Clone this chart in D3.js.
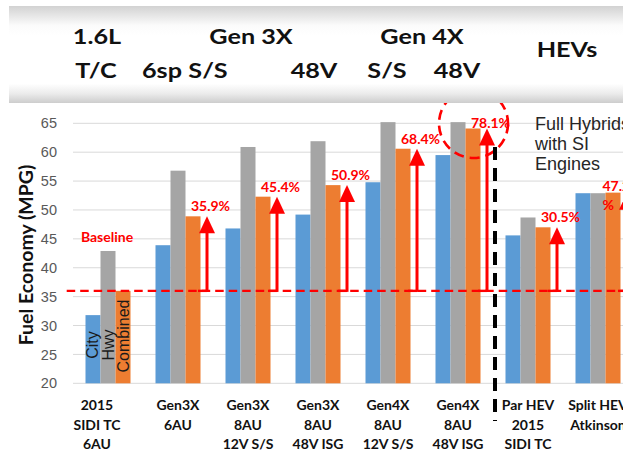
<!DOCTYPE html>
<html>
<head>
<meta charset="utf-8">
<script src="https://cdn.jsdelivr.net/npm/d3@7/dist/d3.min.js"></script>
<style>
  html, body { margin: 0; padding: 0; background: #fff; }
  svg { display: block; }
</style>
</head>
<body>
<div id="chart"></div>
<script>
// Powertrain variants (x-axis label lines)
const categories = [
  ["2015", "SIDI TC", "6AU"],
  ["Gen3X", "6AU"],
  ["Gen3X", "8AU", "12V S/S"],
  ["Gen3X", "8AU", "48V ISG"],
  ["Gen4X", "8AU", "12V S/S"],
  ["Gen4X", "8AU", "48V ISG"],
  ["Par HEV", "2015", "SIDI TC"],
  ["Split HEV", "Atkinson"]
];
const seriesNames = ["City", "Hwy", "Combined"];
// Fuel economy, MPG
const city     = [31.8, 43.9, 46.8, 49.2, 54.8, 59.5, 45.6, 52.9];
const hwy      = [42.9, 56.8, 60.9, 61.9, 65.2, 65.2, 48.7, 52.9];
const combined = [36.0, 48.9, 52.3, 54.3, 60.6, 64.1, 47.0, 53.0];
// Combined gain over the 2015 baseline
const gains = [null, "35.9%", "45.4%", "50.9%", "68.4%", "78.1%", "30.5%", "47.2%"];
const baselineValue = 36.0;
const yTicks = [20, 25, 30, 35, 40, 45, 50, 55, 60, 65];
const headerTop = [["1.6L", 97], ["Gen 3X", 251], ["Gen 4X", 422]];
const headerBottom = [["T/C", 96], ["6sp", 162], ["S/S", 208], ["48V", 314], ["S/S", 387], ["48V", 457]];
const hybridNote = ["Full Hybrids", "with SI", "Engines"];

const W = 623, H = 467;
const colors = { City: "#5b9bd5", Hwy: "#a5a5a5", Combined: "#ed7d31" };
const calibri = "Lato, 'Open Sans', sans-serif";
const arial = "'Liberation Sans', Arial, sans-serif";

const svg = d3.select("#chart").append("svg")
  .attr("width", W).attr("height", H)
  .attr("viewBox", `0 0 ${W} ${H}`);

const y = d3.scaleLinear().domain([20, 65]).range([383.3, 123.3]);
const x = d3.scaleBand().domain(d3.range(categories.length))
  .range([73, 633]).paddingInner(0.357).paddingOuter(0.1785);
const xs = d3.scaleBand().domain(seriesNames).range([0, x.bandwidth()]);

// gridlines
svg.append("g").selectAll("line").data(yTicks).join("line")
  .attr("x1", 73).attr("x2", W)
  .attr("y1", d => y(d)).attr("y2", d => y(d))
  .attr("stroke", "#d9d9d9").attr("stroke-width", 1);

// y axis labels
const yAxis = d3.axisLeft(y).tickValues(yTicks).tickSize(0).tickPadding(0);
const yg = svg.append("g").attr("transform", "translate(57,0)").call(yAxis);
yg.select(".domain").remove();
yg.selectAll("text").attr("font-family", arial).attr("font-size", 14.5).attr("fill", "#595959");

// y title
svg.append("text")
  .attr("transform", `translate(33,255) rotate(-90)`)
  .attr("text-anchor", "middle")
  .attr("font-family", calibri).attr("font-weight", 700).attr("font-size", 19.5)
  .attr("fill", "#111").text("Fuel Economy (MPG)");

// bars
const seriesData = { City: city, Hwy: hwy, Combined: combined };
const groups = svg.append("g").selectAll("g").data(categories).join("g")
  .attr("transform", (d, i) => `translate(${x(i)},0)`);
groups.selectAll("rect").data((d, i) => seriesNames.map(s => ({ s, v: seriesData[s][i] })))
  .join("rect")
  .attr("x", d => xs(d.s)).attr("width", xs.bandwidth())
  .attr("y", d => y(d.v)).attr("height", d => y(20) - y(d.v))
  .attr("fill", d => colors[d.s]);

// series names written inside the first group's bars
const inBar = { City: 345, Hwy: 345, Combined: 336 };
seriesNames.forEach(s => {
  const bx = x(0) + xs(s) + xs.bandwidth() / 2 + 5.5;
  svg.append("text")
    .attr("transform", `translate(${bx},${inBar[s]}) rotate(-90)`)
    .attr("text-anchor", "middle")
    .attr("font-family", arial).attr("font-size", 16).attr("fill", "#1a1a1a")
    .text(s);
});

// baseline
const yb = y(baselineValue);
svg.append("line")
  .attr("x1", 66.7).attr("x2", W).attr("y1", yb).attr("y2", yb)
  .attr("stroke", "#ff0000").attr("stroke-width", 2.4)
  .attr("stroke-dasharray", "8.5,5");
svg.append("text")
  .attr("x", x(0) + x.bandwidth() / 2 - 1).attr("y", 241.5)
  .attr("text-anchor", "middle")
  .attr("font-family", calibri).attr("font-weight", 700).attr("font-size", 14)
  .attr("fill", "#ff0000").text("Baseline");

// gain arrows and percentages
gains.forEach((g, i) => {
  if (!g) return;
  const top = y(combined[i]);
  const ax = x(i) + xs("Combined") + xs.bandwidth() + 6.5;
  svg.append("line")
    .attr("x1", ax - 9).attr("x2", ax).attr("y1", yb).attr("y2", yb)
    .attr("stroke", "#ff0000").attr("stroke-width", 2.4);
  svg.append("line")
    .attr("x1", ax).attr("x2", ax).attr("y1", yb + 1).attr("y2", top + 15)
    .attr("stroke", "#ff0000").attr("stroke-width", 3);
  svg.append("path")
    .attr("d", `M${ax},${top} L${ax + 8},${top + 17} L${ax - 8},${top + 17} Z`)
    .attr("fill", "#ff0000");
  const t = svg.append("text")
    .attr("font-family", calibri).attr("font-weight", 700).attr("font-size", 14)
    .attr("fill", "#ff0000");
  if (ax + 3 + 20 > W) {
    // no room on the right edge: wrap the percent sign below
    const lx = x(i) + xs("Combined") - 3;
    t.attr("text-anchor", "start");
    t.append("tspan").attr("x", lx).attr("y", top - 2).text(g.replace("%", ""));
    t.append("tspan").attr("x", lx).attr("y", top + 17).text("%");
  } else {
    t.attr("x", ax + 3.5).attr("y", top - (i === 5 ? 1 : 5)).attr("text-anchor", "middle").text(g);
  }
});

// highlight around the best result
const best = 5;
svg.append("circle")
  .attr("cx", x(best) + xs("Combined") + 8).attr("cy", 123.5).attr("r", 34.5)
  .attr("fill", "none").attr("stroke", "#ff0000").attr("stroke-width", 2.6)
  .attr("stroke-dasharray", "10,6");

// separator between conventional and hybrid powertrains
const sepX = (x(5) + x.bandwidth() + x(6)) / 2 + 2;
svg.append("line")
  .attr("x1", sepX).attr("x2", sepX).attr("y1", 147).attr("y2", 421)
  .attr("stroke", "#000").attr("stroke-width", 4)
  .attr("stroke-dasharray", "13,8");

// note on the hybrid side
svg.append("text")
  .attr("font-family", arial).attr("font-size", 18).attr("fill", "#262626")
  .selectAll("tspan").data(hybridNote).join("tspan")
  .attr("x", 535).attr("y", (d, i) => 130 + i * 20).text(d => d);

// x labels
svg.append("g").selectAll("text").data(categories).join("text")
  .attr("font-family", calibri).attr("font-weight", 700).attr("font-size", 14)
  .attr("fill", "#111").attr("text-anchor", "middle")
  .each(function (lines, i) {
    const cx = x(i) + x.bandwidth() / 2 - (i === 0 ? 11 : 0);
    d3.select(this).selectAll("tspan").data(lines).join("tspan")
      .attr("x", cx).attr("y", (d, k) => 410 + k * 19.5).text(d => d);
  });

// header band
const defs = svg.append("defs");
const grad = defs.append("linearGradient").attr("id", "band")
  .attr("x1", 0).attr("x2", 0).attr("y1", 0).attr("y2", 1);
[[0, "#d2d2d2"], [0.2, "#fbfbfb"], [0.3, "#ffffff"], [0.8, "#ffffff"], [0.9, "#ececec"], [1, "#cdcdcd"]]
  .forEach(([o, c]) => grad.append("stop").attr("offset", o).attr("stop-color", c));
svg.append("rect").attr("x", 9).attr("y", 6).attr("width", W - 9).attr("height", 97)
  .attr("fill", "url(#band)");

const hdr = svg.append("g")
  .attr("font-family", calibri).attr("font-weight", 700).attr("font-size", 21)
  .attr("fill", "#111").attr("text-anchor", "middle");
headerTop.forEach(([s, cx]) =>
  hdr.append("text").attr("transform", `translate(${cx},44) scale(1.2,1)`).text(s));
headerBottom.forEach(([s, cx]) =>
  hdr.append("text").attr("transform", `translate(${cx},78) scale(1.2,1)`).text(s));
hdr.append("text").attr("transform", `translate(567,57) scale(1.2,1)`).text("HEVs");
</script>
</body>
</html>
